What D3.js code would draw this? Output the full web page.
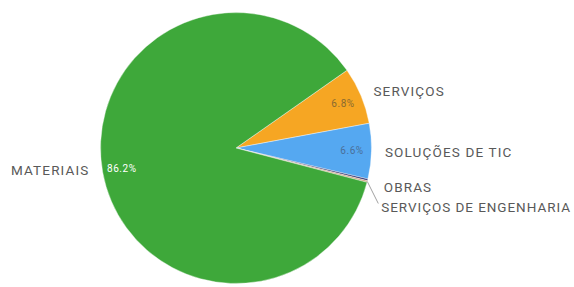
<!DOCTYPE html>
<html><head><meta charset="utf-8">
<script src="https://cdn.jsdelivr.net/npm/d3@7"></script>
<style>body{margin:0;background:#fff;} svg{display:block;}</style>
</head><body>
<svg id="c" width="574" height="287"></svg>
<script>
const categories = ["SERVIÇOS", "SOLUÇÕES DE TIC", "OBRAS", "SERVIÇOS DE ENGENHARIA", "MATERIAIS"];
const values = [6.8, 6.6, 0.2, 0.2, 86.2];
const pctLabels = ["6.8%", "6.6%", "", "", "86.2%"];
const colors = ["#f6a623", "#55a8f1", "#2b2a6b", "#d2a27a", "#3ea83a"];

const svg = d3.select("#c");
const cx = 236, cy = 148, R = 135.5;
const g = svg.append("g").attr("transform", `translate(${cx},${cy})`);
const startA = 55 * Math.PI / 180;
const pie = d3.pie().sort(null).value(d => d).startAngle(startA).endAngle(startA + 2 * Math.PI);
const arcs = pie(values);
const arc = d3.arc().innerRadius(0).outerRadius(R);

g.selectAll("path").data(arcs).join("path")
  .attr("d", arc).attr("fill", (d, i) => colors[i])
  .attr("stroke", "#fff").attr("stroke-width", 0.4);

const inner = d3.arc().innerRadius(116).outerRadius(116);
g.selectAll("text.pct").data(arcs).join("text").attr("class", "pct")
  .attr("transform", d => `translate(${inner.centroid(d)})`)
  .attr("text-anchor", "middle").attr("dy", "0.35em")
  .attr("font-family", "Roboto, sans-serif").attr("font-size", 10).attr("letter-spacing", 0.6)
  .attr("fill", (d, i) => i === 4 ? "#ffffff" : (i === 0 ? "#8a6a30" : "#4a6f99"))
  .text((d, i) => pctLabels[i]);

function pos(d, r) {
  const a = (d.startAngle + d.endAngle) / 2;
  return [r * Math.sin(a), -r * Math.cos(a)];
}
const labelXY = [
  pos(arcs[0], 149),
  pos(arcs[1], 149),
  null, null, null
];
labelXY[0][1] += 1;
labelXY[1][1] += 1;
const p2 = pos(arcs[2], R), p3 = pos(arcs[3], R);
labelXY[2] = [p2[0] + 16, p2[1] + 7];
labelXY[3] = [p3[0] + 14, p3[1] + 26];
labelXY[4] = [-R - 11, pos(arcs[4], R)[1] - 2];
const anchors = ["start", "start", "start", "start", "end"];
const spacing = [1.15, 1.15, 1.15, 0.95, 1.15];

// leader line for engineering
g.append("path")
  .attr("d", `M${p3[0]},${p3[1]}L${labelXY[3][0] - 3},${labelXY[3][1] - 4}`)
  .attr("stroke", "#8a8a8a").attr("stroke-width", 0.8).attr("fill", "none");

g.selectAll("text.lab").data(arcs).join("text").attr("class", "lab")
  .attr("x", (d, i) => labelXY[i][0]).attr("y", (d, i) => labelXY[i][1])
  .attr("dy", "0.35em")
  .attr("text-anchor", (d, i) => anchors[i])
  .attr("font-family", "Roboto, sans-serif").attr("font-size", 13.5)
  .attr("letter-spacing", (d, i) => spacing[i])
  .attr("fill", "#595959")
  .text((d, i) => categories[i]);
</script>
</body></html>
